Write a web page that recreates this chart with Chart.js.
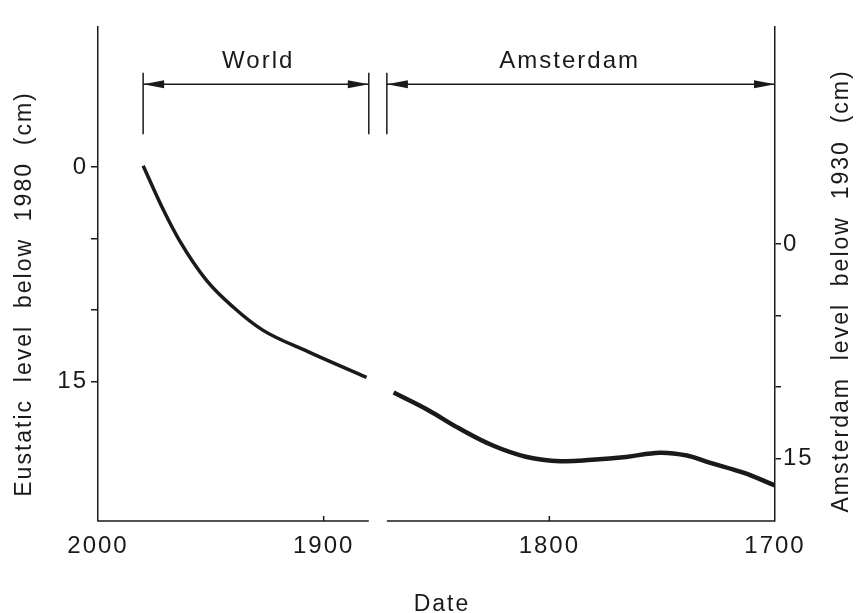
<!DOCTYPE html>
<html>
<head>
<meta charset="utf-8">
<title>Sea level</title>
<script src="https://cdn.jsdelivr.net/npm/chart.js@4/dist/chart.umd.min.js"></script>
<style>
    body { margin: 0; background: #fff; }
    canvas { display: block; }
</style>
</head>
<body>
<canvas id="level-chart" width="856" height="613"></canvas>
<script>
// World eustatic curve (left axis, cm below 1980)
const worldYears = [1980, 1971, 1964, 1952, 1940, 1927, 1907, 1881];
const worldLevel = [-0.1, 3.0, 5.1, 7.9, 9.8, 11.4, 12.9, 14.7];

// Amsterdam curve (right axis, cm below 1930)
const amsYears = [1869, 1854, 1840, 1825, 1810, 1795, 1781, 1766, 1751, 1739, 1729, 1714, 1700];
const amsLevel = [10.4, 11.6, 12.9, 14.1, 14.9, 15.2, 15.1, 14.9, 14.6, 14.8, 15.3, 16.0, 16.9];

// Axis ticks
const xTicks = [2000, 1900, 1800, 1700];
const leftTicks = [0, 5, 10, 15];
const rightTicks = [0, 5, 10, 15];
const labelledTicks = [0, 15];

// Record spans shown above the curves (years)
const spans = [
    { label: 'World', from: 1980, to: 1880, labelAt: 1929 },
    { label: 'Amsterdam', from: 1872, to: 1700, labelAt: 1791 }
];
const axisGap = [1880, 1872];

const INK = '#1a1a1a';
const FONT = "'Liberation Sans', Arial, sans-serif";

function toPoints(xs, ys) {
    return xs.map((x, i) => ({ x: x, y: ys[i] }));
}

// draws the broken x axis, the span arrows and the axis titles
const decorPlugin = {
    id: 'decor',
    beforeDraw(chart) {
        chart.ctx.letterSpacing = '2px';
    },
    afterDraw(chart) {
        const ctx = chart.ctx;
        const xs = chart.scales.x;
        const yl = chart.scales.y;
        const area = chart.chartArea;

        ctx.save();
        ctx.strokeStyle = INK;
        ctx.fillStyle = INK;
        ctx.lineWidth = 1.5;

        // x axis with break
        const xa = xs.getPixelForValue(axisGap[0]);
        const xb = xs.getPixelForValue(axisGap[1]);
        ctx.beginPath();
        ctx.moveTo(area.left, area.bottom);
        ctx.lineTo(xa, area.bottom);
        ctx.moveTo(xb, area.bottom);
        ctx.lineTo(area.right, area.bottom);
        // small inward ticks
        xTicks.slice(1, -1).forEach(t => {
            const px = xs.getPixelForValue(t);
            ctx.moveTo(px, area.bottom);
            ctx.lineTo(px, area.bottom - 5);
        });
        ctx.stroke();

        // span bars and arrows
        const barTop = yl.getPixelForValue(-6.6);
        const barBottom = yl.getPixelForValue(-2.3);
        const arrowY = yl.getPixelForValue(-5.8);
        const labelY = yl.getPixelForValue(-7.4);

        [spans[0].from, spans[0].to, spans[1].from].forEach(yr => {
            const px = xs.getPixelForValue(yr);
            ctx.beginPath();
            ctx.moveTo(px, barTop);
            ctx.lineTo(px, barBottom);
            ctx.stroke();
        });

        ctx.font = `24px ${FONT}`;
        ctx.textAlign = 'center';
        ctx.textBaseline = 'middle';

        spans.forEach(s => {
            const x0 = xs.getPixelForValue(s.from);
            const x1 = xs.getPixelForValue(s.to);
            ctx.beginPath();
            ctx.moveTo(x0, arrowY);
            ctx.lineTo(x1, arrowY);
            ctx.stroke();
            arrowHead(ctx, x0, arrowY, 1);
            arrowHead(ctx, x1, arrowY, -1);
            ctx.fillText(s.label, xs.getPixelForValue(s.labelAt), labelY);
        });

        // axis titles
        ctx.font = `23px ${FONT}`;
        ctx.fillText('Date', 442, 605);
        vText(ctx, 'Eustatic  level  below  1980  (cm)', 25, 294);
        vText(ctx, 'Amsterdam  level  below  1930  (cm)', 842, 291);

        ctx.restore();
    }
};

function arrowHead(ctx, tipX, y, dir) {
    ctx.beginPath();
    ctx.moveTo(tipX, y);
    ctx.lineTo(tipX + dir * 21, y - 4);
    ctx.lineTo(tipX + dir * 21, y + 4);
    ctx.closePath();
    ctx.fill();
}

function vText(ctx, text, x, y) {
    ctx.save();
    ctx.translate(x, y);
    ctx.rotate(-Math.PI / 2);
    ctx.fillText(text, 0, 0);
    ctx.restore();
}

const yAxisBase = {
    type: 'linear',
    reverse: true,
    grid: { drawOnChartArea: false, drawTicks: true, tickLength: 7, color: INK, lineWidth: 1.5 },
    border: { display: true, color: INK, width: 1.5 },
    ticks: {
        color: INK,
        font: { family: FONT, size: 24 },
        padding: 3,
        callback: v => labelledTicks.includes(v) ? String(v) : ''
    }
};

new Chart(document.getElementById('level-chart'), {
    type: 'line',
    data: {
        datasets: [
            {
                label: 'World',
                data: toPoints(worldYears, worldLevel),
                yAxisID: 'y',
                borderColor: INK,
                borderWidth: 3.5,
                pointRadius: 0,
                cubicInterpolationMode: 'monotone',
                fill: false
            },
            {
                label: 'Amsterdam',
                data: toPoints(amsYears, amsLevel),
                yAxisID: 'y2',
                borderColor: INK,
                borderWidth: 4.5,
                pointRadius: 0,
                tension: 0.4,
                fill: false
            }
        ]
    },
    options: {
        responsive: false,
        animation: false,
        devicePixelRatio: 1,
        layout: { padding: { top: 27, left: 0, right: 0, bottom: 0 } },
        plugins: {
            legend: { display: false },
            tooltip: { enabled: false }
        },
        scales: {
            x: {
                type: 'linear',
                reverse: true,
                min: 1700,
                max: 2000,
                afterFit: s => { s.height = 92; },
                afterBuildTicks: s => { s.ticks = xTicks.map(v => ({ value: v })); },
                grid: { display: false, drawTicks: false },
                border: { display: false },
                ticks: {
                    color: INK,
                    font: { family: FONT, size: 24 },
                    padding: 11,
                    maxRotation: 0,
                    autoSkip: false,
                    callback: v => String(v)
                }
            },
            y: {
                ...yAxisBase,
                position: 'left',
                min: -9.8,
                max: 24.75,
                afterFit: s => { s.width = 98; },
                afterBuildTicks: s => { s.ticks = leftTicks.map(v => ({ value: v })); }
            },
            y2: {
                ...yAxisBase,
                position: 'right',
                min: -15.17,
                max: 19.38,
                grid: { ...yAxisBase.grid, tickLength: 6 },
                ticks: { ...yAxisBase.ticks, padding: 2 },
                afterFit: s => { s.width = 81; },
                afterBuildTicks: s => { s.ticks = rightTicks.map(v => ({ value: v })); }
            }
        }
    },
    plugins: [decorPlugin]
});
</script>
</body>
</html>
